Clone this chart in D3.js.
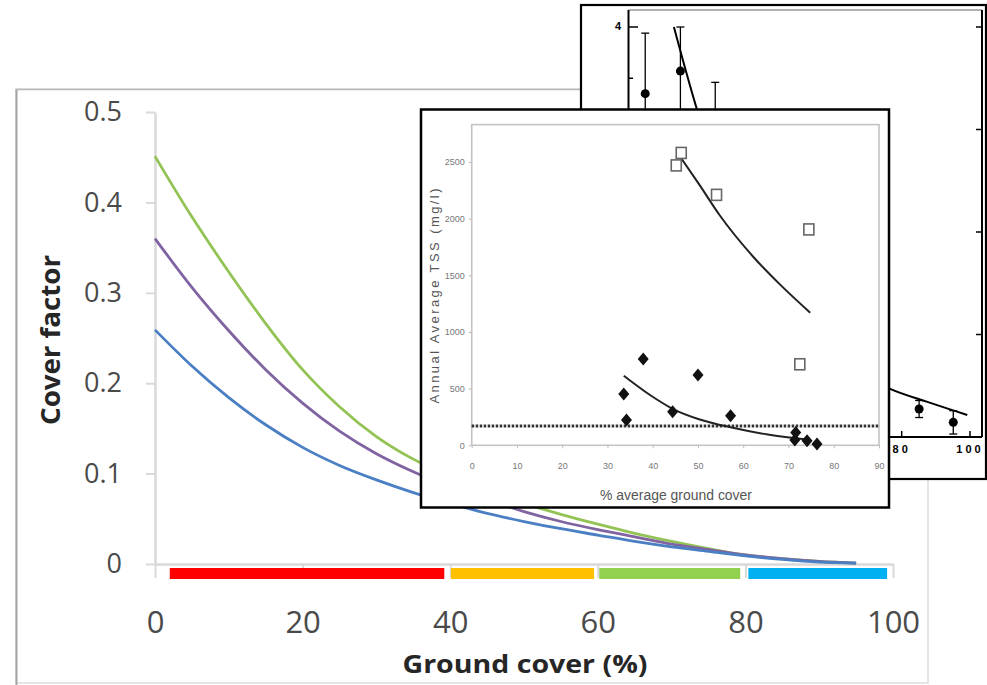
<!DOCTYPE html>
<html>
<head>
<meta charset="utf-8">
<script src="https://cdn.jsdelivr.net/npm/d3@7"></script>
<style>
body { margin: 0; background: #fff; }
svg { display: block; }
</style>
</head>
<body>
<script>
// main chart: cover factor against ground cover
const coverPct = [0, 5, 10, 15, 20, 25, 30, 35, 40, 45, 50, 55, 60, 65, 70, 75, 80, 85, 90, 95];
const coverGreen = [0.451, 0.384, 0.323, 0.266, 0.215, 0.174, 0.141, 0.116, 0.097, 0.081, 0.067, 0.055, 0.044, 0.034, 0.025, 0.017, 0.010, 0.006, 0.003, 0.001];
const coverPurple = [0.360, 0.306, 0.258, 0.215, 0.178, 0.147, 0.122, 0.102, 0.085, 0.071, 0.058, 0.047, 0.038, 0.030, 0.022, 0.016, 0.010, 0.006, 0.003, 0.001];
const coverBlue = [0.259, 0.219, 0.184, 0.154, 0.129, 0.109, 0.093, 0.079, 0.067, 0.056, 0.047, 0.039, 0.032, 0.025, 0.019, 0.014, 0.009, 0.005, 0.002, 0.001];
const bandFrom = [2, 40.1, 60.2, 80.4];
const bandTo = [39.2, 59.5, 79.3, 99.2];
const bandColours = ["#ff0000", "#ffc000", "#92d050", "#00b0f0"];
const mainXTicks = [0, 20, 40, 60, 80, 100];
const mainYTicks = [0, 0.1, 0.2, 0.3, 0.4, 0.5];

// front inset: annual average TSS
const squareCover = [46.3, 45.2, 54.1, 74.5, 72.5];
const squareTss = [2580, 2470, 2210, 1905, 715];
const diamondCover = [33.6, 34.2, 37.9, 44.4, 50.0, 57.2, 71.6, 71.4, 74.1, 76.3];
const diamondTss = [453, 223, 761, 297, 620, 261, 114, 47, 41, 12];
const upperFitCover = [45.8, 50.3, 54.8, 62.2, 68.1, 74.8];
const upperFitTss = [2562, 2300, 2030, 1664, 1420, 1170];
const lowerFitCover = [33.6, 39.4, 44.5, 50.4, 57.7, 65.1, 71.7, 74.0];
const lowerFitTss = [614, 444, 320, 228, 155, 97, 62, 52];
const tssLimit = 170;
const tssXTicks = [0, 10, 20, 30, 40, 50, 60, 70, 80, 90];
const tssYTicks = [0, 500, 1000, 1500, 2000, 2500];

// back inset: sediment loss with error bars
const siteCover = [4.9, 15.2, 25.4, 85.1, 95.1];
const siteLoss = [3.35, 3.57, 2.95, 0.273, 0.143];
const siteErr = [0.59, 0.43, 0.51, 0.083, 0.114];
const lossFitCover = [13.3, 20.1, 30, 40, 50, 60, 70, 76.6, 87.3, 99.2];
const lossFitValue = [4.0, 3.19, 2.25, 1.6, 1.13, 0.81, 0.58, 0.47, 0.345, 0.215];
const lossXTicks = [0, 20, 40, 60, 80, 100];
const lossYTicks = [1, 2, 3, 4];

const W = 987, H = 685;
const svg = d3.select("body").append("svg").attr("width", W).attr("height", H);

// ---------- main chart ----------
const main = svg.append("g");
main.append("rect").attr("x", 16).attr("y", 89).attr("width", 912).attr("height", 594)
    .attr("fill", "#fff").attr("stroke", "#dcdcdc").attr("stroke-width", 1.5);
main.append("line").attr("x1", 16.5).attr("x2", 16.5).attr("y1", 89).attr("y2", H)
    .attr("stroke", "#a3a3a3").attr("stroke-width", 2);
main.append("line").attr("x1", 16).attr("x2", 928).attr("y1", 89.5).attr("y2", 89.5)
    .attr("stroke", "#b8b8b8").attr("stroke-width", 1.5);

const mx = d3.scaleLinear().domain([0, 100]).range([155, 893]);
const my = d3.scaleLinear().domain([0, 0.5]).range([564, 112]);

const yAxis = main.append("g").attr("transform", "translate(155,0)")
    .call(d3.axisLeft(my).tickValues(mainYTicks).tickSize(9).tickSizeOuter(0).tickPadding(24)
        .tickFormat(d => d === 0 ? "0" : d3.format(".1f")(d)));
const xAxis = main.append("g").attr("transform", "translate(0,564)")
    .call(d3.axisBottom(mx).tickValues(mainXTicks).tickSize(14).tickSizeOuter(0).tickPadding(33));
[yAxis, xAxis].forEach(a => {
    a.select(".domain").attr("stroke", "#d9d9d9").attr("stroke-width", 2.5);
    a.selectAll(".tick line").attr("stroke", "#d9d9d9").attr("stroke-width", 2);
    a.selectAll("text").attr("fill", "#4a4a4a").attr("font-family", "Open Sans");
});
yAxis.selectAll("text").attr("font-size", 27);
xAxis.selectAll("text").attr("font-size", 31);

main.selectAll(".band")
    .data(bandFrom)
    .join("rect")
    .attr("class", "band")
    .attr("x", (d) => mx(d))
    .attr("y", my(0) + 4)
    .attr("width", (d, i) => mx(bandTo[i]) - mx(d))
    .attr("height", 11)
    .attr("fill", (d, i) => bandColours[i]);

const coverLine = d3.line()
    .x((d, i) => mx(coverPct[i]))
    .y((d) => my(d))
    .curve(d3.curveMonotoneX);
[[coverGreen, "#93c355"], [coverPurple, "#8064a2"], [coverBlue, "#4a7fc4"]].forEach(([vals, col]) => {
    main.append("path").attr("d", coverLine(vals))
        .attr("fill", "none").attr("stroke", col).attr("stroke-width", 2.8);
});

main.append("text")
    .attr("transform", "translate(60,340) rotate(-90)")
    .attr("text-anchor", "middle")
    .attr("font-family", "Open Sans").attr("font-weight", "bold").attr("font-size", 27)
    .attr("textLength", 170).attr("lengthAdjust", "spacingAndGlyphs")
    .attr("fill", "#262626")
    .text("Cover factor");
main.append("text")
    .attr("x", 525).attr("y", 673)
    .attr("text-anchor", "middle")
    .attr("font-family", "Open Sans").attr("font-weight", "bold").attr("font-size", 25)
    .attr("textLength", 245).attr("lengthAdjust", "spacingAndGlyphs")
    .attr("fill", "#262626")
    .text("Ground cover (%)");

// ---------- back inset ----------
const back = svg.append("g");
back.append("rect").attr("x", 581).attr("y", 5).attr("width", 405).attr("height", 474)
    .attr("fill", "#fff").attr("stroke", "#000").attr("stroke-width", 2.2);

const lx = d3.scaleLinear().domain([0, 100]).range([628.5, 970]);
const ly = d3.scaleLinear().domain([0, 4]).range([437, 27]);

back.append("line").attr("x1", 628.5).attr("x2", 982).attr("y1", 10).attr("y2", 10)
    .attr("stroke", "#666").attr("stroke-width", 1.2);
back.append("line").attr("x1", 628.5).attr("x2", 628.5).attr("y1", 10).attr("y2", 437)
    .attr("stroke", "#000").attr("stroke-width", 2);
back.append("line").attr("x1", 982).attr("x2", 982).attr("y1", 10).attr("y2", 437)
    .attr("stroke", "#000").attr("stroke-width", 2);
back.append("line").attr("x1", 628.5).attr("x2", 982).attr("y1", 437).attr("y2", 437)
    .attr("stroke", "#000").attr("stroke-width", 2);

back.selectAll(".rtick").data(lossYTicks).join("line")
    .attr("x1", 976).attr("x2", 982).attr("y1", (d) => ly(d)).attr("y2", (d) => ly(d))
    .attr("stroke", "#000").attr("stroke-width", 1.5);
back.selectAll(".ltick").data([3, 3.5, 4]).join("line")
    .attr("x1", 628.5).attr("x2", (d) => d % 1 === 0 ? 638 : 633)
    .attr("y1", (d) => ly(d)).attr("y2", (d) => ly(d))
    .attr("stroke", "#000").attr("stroke-width", 1.5);
back.selectAll(".btick").data(lossXTicks).join("line")
    .attr("x1", (d) => lx(d)).attr("x2", (d) => lx(d)).attr("y1", 431).attr("y2", 437)
    .attr("stroke", "#000").attr("stroke-width", 1.5);
back.append("text").attr("x", 621).attr("y", 30).attr("text-anchor", "end")
    .attr("font-family", "Liberation Sans").attr("font-weight", "bold").attr("font-size", 11)
    .text("4");
back.selectAll(".blabel").data([80, 100]).join("text")
    .attr("x", (d) => lx(d)).attr("y", 453).attr("text-anchor", "middle")
    .attr("font-family", "Liberation Sans").attr("font-weight", "bold").attr("font-size", 11)
    .attr("letter-spacing", 3)
    .text((d) => d);

const lossLine = d3.line()
    .x((d, i) => lx(lossFitCover[i]))
    .y((d) => ly(d))
    .curve(d3.curveMonotoneX);
back.append("path").attr("d", lossLine(lossFitValue))
    .attr("fill", "none").attr("stroke", "#000").attr("stroke-width", 2);

siteCover.forEach((c, i) => {
    const cx = lx(c), top = ly(siteLoss[i] + siteErr[i]), bot = ly(siteLoss[i] - siteErr[i]);
    back.append("line").attr("x1", cx).attr("x2", cx).attr("y1", top).attr("y2", bot)
        .attr("stroke", "#000").attr("stroke-width", 1.3);
    [top, bot].forEach(yy => back.append("line").attr("x1", cx - 4).attr("x2", cx + 4)
        .attr("y1", yy).attr("y2", yy).attr("stroke", "#000").attr("stroke-width", 1.3));
    back.append("circle").attr("cx", cx).attr("cy", ly(siteLoss[i])).attr("r", 4.5).attr("fill", "#000");
});

// ---------- front inset ----------
const front = svg.append("g");
front.append("rect").attr("x", 421).attr("y", 109.5).attr("width", 468).attr("height", 398)
    .attr("fill", "#fff").attr("stroke", "#000").attr("stroke-width", 2.5);

const tx = d3.scaleLinear().domain([0, 90]).range([471.7, 879]);
const ty = d3.scaleLinear().domain([0, 2830]).range([445.3, 124.6]);

front.append("rect").attr("x", tx(0)).attr("y", ty(2830)).attr("width", tx(90) - tx(0))
    .attr("height", ty(0) - ty(2830))
    .attr("fill", "none").attr("stroke", "#c4c4c4").attr("stroke-width", 1.6);

const tyAxis = front.append("g").attr("transform", `translate(${tx(0)},0)`)
    .call(d3.axisLeft(ty).tickValues(tssYTicks).tickSize(3).tickSizeOuter(0).tickPadding(4)
        .tickFormat(d3.format("d")));
const txAxis = front.append("g").attr("transform", `translate(0,${ty(0)})`)
    .call(d3.axisBottom(tx).tickValues(tssXTicks).tickSize(3).tickSizeOuter(0).tickPadding(14));
[tyAxis, txAxis].forEach(a => {
    a.select(".domain").remove();
    a.selectAll(".tick line").attr("stroke", "#bbb");
    a.selectAll("text").attr("fill", "#777").attr("font-family", "Liberation Sans").attr("font-size", 9);
});

front.append("line").attr("x1", tx(0)).attr("x2", tx(90)).attr("y1", ty(tssLimit)).attr("y2", ty(tssLimit))
    .attr("stroke", "#333").attr("stroke-width", 3).attr("stroke-dasharray", "2.5 1.5");

const upperLine = d3.line().x((d, i) => tx(upperFitCover[i])).y((d) => ty(d)).curve(d3.curveMonotoneX);
const lowerLine = d3.line().x((d, i) => tx(lowerFitCover[i])).y((d) => ty(d)).curve(d3.curveMonotoneX);
front.append("path").attr("d", upperLine(upperFitTss)).attr("fill", "none").attr("stroke", "#222").attr("stroke-width", 2);
front.append("path").attr("d", lowerLine(lowerFitTss)).attr("fill", "none").attr("stroke", "#222").attr("stroke-width", 2);

front.selectAll(".sq").data(squareCover).join("rect")
    .attr("class", "sq")
    .attr("x", (d) => tx(d) - 5).attr("y", (d, i) => ty(squareTss[i]) - 5.5)
    .attr("width", 10).attr("height", 11)
    .attr("fill", "#fff").attr("stroke", "#666").attr("stroke-width", 1.6);

const diamond = { draw(ctx) { ctx.moveTo(0, -6.5); ctx.lineTo(5.5, 0); ctx.lineTo(0, 6.5); ctx.lineTo(-5.5, 0); ctx.closePath(); } };
front.selectAll(".dm").data(diamondCover).join("path")
    .attr("class", "dm")
    .attr("d", d3.symbol().type(diamond))
    .attr("transform", (d, i) => `translate(${tx(d)},${ty(diamondTss[i])})`)
    .attr("fill", "#111");

front.append("text")
    .attr("transform", "translate(439,296) rotate(-90)")
    .attr("text-anchor", "middle")
    .attr("font-family", "Liberation Sans").attr("font-size", 13)
    .attr("textLength", 215).attr("lengthAdjust", "spacing")
    .attr("fill", "#555")
    .text("Annual Average TSS (mg/l)");
front.append("text")
    .attr("x", 676).attr("y", 500)
    .attr("text-anchor", "middle")
    .attr("font-family", "Liberation Sans").attr("font-size", 14)
    .attr("textLength", 152).attr("lengthAdjust", "spacingAndGlyphs")
    .attr("fill", "#555")
    .text("% average ground cover");
</script>
</body>
</html>
